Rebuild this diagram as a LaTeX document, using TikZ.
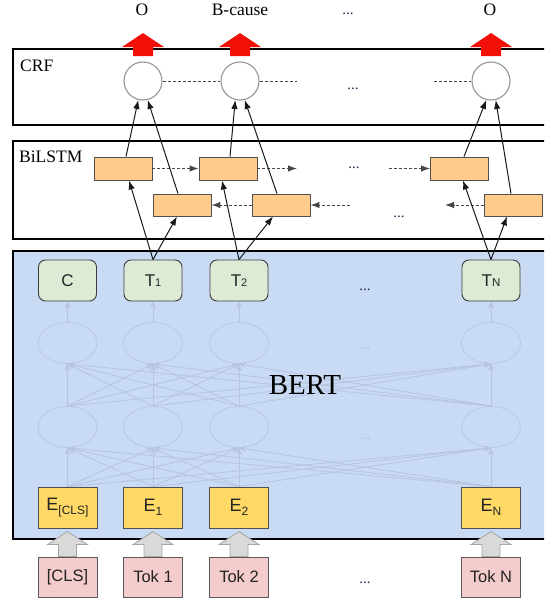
\documentclass[tikz,border=0pt]{standalone}
\usepackage{fontspec}
\setmainfont{Liberation Serif}
\setsansfont{Liberation Sans}
\usetikzlibrary{arrows.meta,calc,shapes.geometric}
\definecolor{bertbg}{RGB}{201,218,245}
\definecolor{faintc}{RGB}{182,196,222}
\definecolor{ellc}{RGB}{186,200,228}
\definecolor{lstmfill}{RGB}{255,204,140}
\definecolor{tfill}{RGB}{221,235,213}
\definecolor{efill}{RGB}{255,217,102}
\definecolor{tokfill}{RGB}{244,204,204}
\definecolor{crfred}{RGB}{240,16,8}
\definecolor{blockgray}{RGB}{217,217,217}
\definecolor{blockedge}{RGB}{165,165,165}
\definecolor{txtc}{RGB}{35,35,35}
\definecolor{dotc}{RGB}{40,45,80}
\newcommand\redup[1]{\fill[crfred] ($(#1)+(0,-48)$) -- ++(21,14) -- ++(-11,0) -- ++(0,9) -- ++(-20,0) -- ++(0,-9) -- ++(-11,0) -- cycle;}
\newcommand\grayup[1]{\filldraw[fill=blockgray,draw=blockedge,line width=0.8pt] ($(#1.north)+(0,-25)$) -- ++(20,13) -- ++(-11,0) -- ++(0,12) -- ++(-18,0) -- ++(0,-12) -- ++(-11,0) -- cycle;}
\begin{document}
\begin{tikzpicture}[x=1pt,y=-1pt,
  frame/.style={draw=black,line width=2pt},
  serifl/.style={font=\fontsize{17.5}{20}\selectfont,inner sep=0pt},
  crfnode/.style={circle,draw={rgb,255:red,150;green,150;blue,150},line width=1.1pt,fill=white,minimum size=38pt,inner sep=0pt},
  lstm/.style={draw={rgb,255:red,80;green,80;blue,80},line width=0.9pt,fill=lstmfill,minimum width=58pt,minimum height=23pt,inner sep=0pt},
  tnode/.style={draw={rgb,255:red,60;green,60;blue,60},line width=0.9pt,fill=tfill,rounded corners=7pt,minimum width=58pt,minimum height=41pt,inner sep=0pt,font=\sffamily\fontsize{17}{20}\selectfont,text=txtc},
  enode/.style={draw={rgb,255:red,80;green,80;blue,80},line width=0.9pt,fill=efill,minimum width=59pt,minimum height=41pt,inner sep=0pt,font=\sffamily\fontsize{18}{20}\selectfont,text=txtc},
  toknode/.style={draw={rgb,255:red,90;green,90;blue,90},line width=0.9pt,fill=tokfill,minimum width=59pt,minimum height=40pt,inner sep=0pt,font=\sffamily\fontsize{16.5}{20}\selectfont,text=txtc},
  hid/.style={ellipse,draw=ellc,line width=0.8pt,minimum width=59pt,minimum height=41pt,inner sep=0pt},
  faint/.style={draw=faintc,line width=0.8pt,-{Stealth[length=7pt,width=6pt]}},
  blk/.style={draw={rgb,255:red,25;green,25;blue,25},line width=1pt,-{Latex[length=9pt,width=6.5pt]}},
  dsh/.style={draw={rgb,255:red,70;green,70;blue,70},line width=1pt,densely dashed},
  dsharr/.style={dsh,-{Latex[length=9pt,width=6.5pt]}},
  dots/.style={font=\fontsize{15}{18}\selectfont,inner sep=0pt,anchor=base,text=dotc}
]
\useasboundingbox (0,0) rectangle (544,600);
\clip (0,0) rectangle (544,600);

% frames
\draw[frame] (13,49) rectangle (560,125);
\draw[frame] (13,141) rectangle (560,239);
\filldraw[frame,fill=bertbg] (13,251) rectangle (560,539);

% top labels
\node[serifl] (o1) at (142,10) {O};
\node[serifl] (o2) at (240,10) {B-cause};
\node[dots] (o3) at (348,14) {...};
\node[serifl] (o4) at (490,10) {O};

% CRF
\node[serifl,anchor=west] (crfl) at (20,66) {CRF};
\node[crfnode] (c1) at (143,81) {};
\node[crfnode] (c2) at (240,81) {};
\node[crfnode] (c3) at (491,81) {};
\redup{c1}\redup{c2}\redup{c3}
\coordinate (cr1) at (297,81);
\coordinate (cl3) at (434,81);
\draw[dsh] (c1) -- (c2);
\draw[dsh] (c2.east) -- (cr1);
\draw[dsh] (cl3) -- (c3.west);
\node[dots] (cdots) at (353,89) {...};

% BiLSTM
\node[serifl,anchor=west] (bil) at (19,157) {BiLSTM};
\node[lstm] (f1) at (123,168.5) {};
\node[lstm] (f2) at (228,168.5) {};
\node[lstm] (f3) at (459.5,168.5) {};
\node[lstm,minimum height=22pt] (b1) at (182,205) {};
\node[lstm,minimum height=22pt] (b2) at (281,205) {};
\node[lstm,minimum height=22pt] (b3) at (513,205) {};
\coordinate (fr2) at (297,168.5);
\coordinate (fl3) at (389,168.5);
\coordinate (br2) at (350,205);
\coordinate (bl3) at (445,205);
\draw[dsharr] (f1.east) -- (f2.west);
\draw[dsharr] (f2.east) -- (fr2);
\draw[dsharr] (fl3) -- (f3.west);
\draw[dsharr] (b2.west) -- (b1.east);
\draw[dsharr] (br2) -- (b2.east);
\draw[dsharr] (b3.west) -- (bl3);
\node[dots] (fdots) at (354,168) {...};
\node[dots] (bdots) at (399,217) {...};

% BERT internals
\foreach \i/\x in {0/67.5,1/153,2/239,3/491}{
  \node[hid] (ha\i) at (\x,343) {};
  \node[hid] (hb\i) at (\x,427) {};
}
\node[dots,text=faintc] (hadots) at (365,349) {...};
\node[dots,text=faintc] (hbdots) at (365,439) {...};

\node[tnode] (t0) at (67.5,280.5) {C};
\node[tnode] (t1) at (153,280.5) {T{\fontsize{11}{11}\selectfont\raisebox{-0.5pt}{1}}};
\node[tnode] (t2) at (239,280.5) {T{\fontsize{11}{11}\selectfont\raisebox{-0.5pt}{2}}};
\node[tnode] (t3) at (491,280.5) {T{\fontsize{11.5}{11}\selectfont N}};
\node[dots] (tdots) at (365,290) {...};

\node[enode] (e0) at (67.5,507.5) {E\raisebox{-4.5pt}{\fontsize{12}{12}\selectfont [CLS]}};
\node[enode] (e1) at (153,507.5) {E\raisebox{-4.5pt}{\fontsize{12}{12}\selectfont 1}};
\node[enode] (e2) at (239,507.5) {E\raisebox{-4.5pt}{\fontsize{12}{12}\selectfont 2}};
\node[enode] (e3) at (491,507.5) {E\raisebox{-4.5pt}{\fontsize{12}{12}\selectfont N}};

\foreach \i in {0,...,3}{
  \foreach \j in {0,...,3}{
    \draw[faint] (e\i.north) -- (hb\j.south);
    \draw[faint] (hb\i.north) -- (ha\j.south);
  }
  \draw[faint] (ha\i.north) -- (t\i.south);
}
\node[font=\fontsize{29}{32}\selectfont,inner sep=0pt] (bert) at (305,385) {BERT};

% tokens
\node[toknode] (k0) at (67.5,577) {[CLS]};
\node[toknode] (k1) at (153,577) {Tok 1};
\node[toknode] (k2) at (239,577) {Tok 2};
\node[toknode] (k3) at (491,577) {Tok N};
\node[dots] (kdots) at (365,583) {...};
\grayup{k0}\grayup{k1}\grayup{k2}\grayup{k3}

% T -> LSTM
\draw[blk] (t1.north) -- ([xshift=6pt]f1.south);
\draw[blk] (t1.north) -- ([xshift=-5pt]b1.south);
\draw[blk] (t2.north) -- ([xshift=-6pt]f2.south);
\draw[blk] (t2.north) -- ([xshift=-8pt]b2.south);
\draw[blk] (t3.north) -- ([xshift=3.5pt]f3.south);
\draw[blk] (t3.north) -- ([xshift=-6pt]b3.south);
% LSTM -> CRF
\draw[blk] ([xshift=3pt]f1.north) -- (c1.256);
\draw[blk] ([xshift=-4pt]b1.north) -- (c1.284);
\draw[blk] ([xshift=2pt]f2.north) -- (c2.256);
\draw[blk] ([xshift=-4pt]b2.north) -- (c2.284);
\draw[blk] ([xshift=4.5pt]f3.north) -- (c3.256);
\draw[blk] ([xshift=-2pt]b3.north) -- (c3.284);
\end{tikzpicture}
\end{document}
